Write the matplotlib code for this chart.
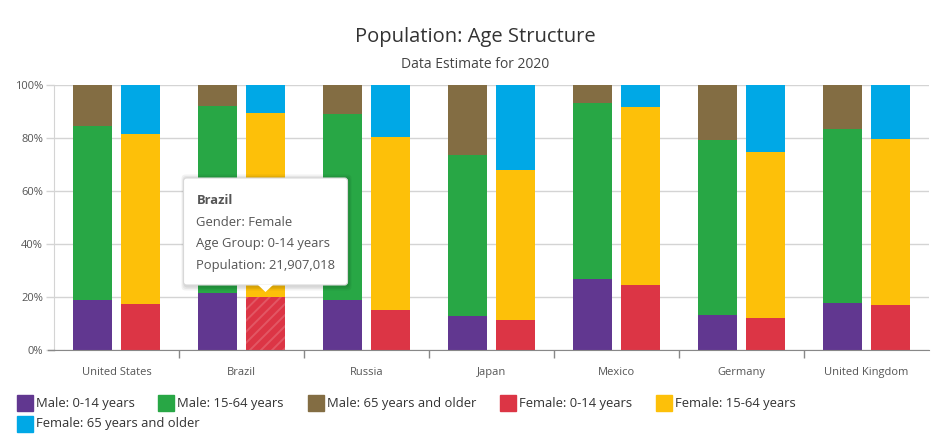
import matplotlib.pyplot as plt
import numpy as np
from matplotlib.patches import Rectangle, FancyBboxPatch, Polygon
from matplotlib.transforms import IdentityTransform

plt.rcParams['font.family'] = ['Open Sans', 'DejaVu Sans']
plt.rcParams['hatch.linewidth'] = 1.4

# --- data (share of each gender's population, %) ---
countries = ['United States', 'Brazil', 'Russia', 'Japan', 'Mexico', 'Germany', 'United Kingdom']
age_groups = ['0-14 years', '15-64 years', '65 years and older']

male_0_14 = [18.9, 21.5, 19.0, 12.8, 26.8, 13.2, 17.7]
male_15_64 = [65.7, 70.7, 70.2, 60.8, 66.4, 66.2, 65.7]
male_65 = [15.4, 7.8, 10.8, 26.4, 6.8, 20.6, 16.6]

female_0_14 = [17.4, 20.0, 15.2, 11.4, 24.5, 12.1, 17.0]
female_15_64 = [64.2, 69.4, 65.2, 56.6, 67.2, 62.7, 62.6]
female_65 = [18.4, 10.6, 19.6, 32.0, 8.3, 25.2, 20.4]

male_colors = ['#613790', '#28a745', '#836d43']
female_colors = ['#dc3545', '#fdc009', '#00a8e6']

# tooltip content (hovered point)
tip_country = 'Brazil'
tip_gender = 'Female'
tip_age = '0-14 years'
tip_population = 21907018

W, H = 950, 446
fig = plt.figure(figsize=(W / 100, H / 100), dpi=100)
ax = fig.add_axes([54 / W, (H - 350) / H, (929 - 54) / W, 265 / H])

x = np.arange(len(countries))
width = 0.312
offset = 0.192

series = [
    ('Male', -offset, [male_0_14, male_15_64, male_65], male_colors),
    ('Female', offset, [female_0_14, female_15_64, female_65], female_colors),
]

handles = []
for gender, off, stacks, colors in series:
    bottom = np.zeros(len(countries))
    for age, vals, col in zip(age_groups, stacks, colors):
        vals = np.array(vals, dtype=float)
        bars = ax.bar(x + off, vals, width, bottom=bottom, color=col, linewidth=0, zorder=2)
        handles.append((f'{gender}: {age}', col))
        if gender == tip_gender and age == tip_age:
            i = countries.index(tip_country)
            bars[i].set_hatch('///')
            bars[i].set_edgecolor('#e25764')
            bars[i].set_facecolor('#dc3545')
            tip_x, tip_y = x[i] + off, bottom[i] + vals[i]
        bottom += vals

ax.set_xlim(-0.5, len(countries) - 0.5)
ax.set_ylim(0, 100)
ax.set_yticks(np.arange(0, 101, 20))
ax.set_yticklabels([f'{v}%' for v in range(0, 101, 20)])
ax.set_xticks(x)
ax.set_xticklabels(countries)
ax.set_xticks(np.arange(0.5, len(countries) - 1, 1), minor=True)
ax.tick_params(axis='x', which='major', length=0, pad=12, labelsize=8, labelcolor='#555555')
ax.tick_params(axis='x', which='minor', length=6, color='#888888', width=1)
ax.tick_params(axis='y', length=6, color='#d4d4d4', width=1, labelsize=8, labelcolor='#555555', pad=2)
ax.grid(axis='y', color='#d4d4d4', linewidth=1, zorder=0)
for s in ['top', 'right']:
    ax.spines[s].set_visible(False)
ax.spines['bottom'].set_color('#888888')
ax.spines['left'].set_color('#d4d4d4')
ax.spines['bottom'].set_zorder(3)
# bottom axis line runs under the y tick marks too
ax.plot([-6 / 875, 0], [0, 0], color='#888888', linewidth=1, clip_on=False,
        transform=ax.transAxes, zorder=3)

fig.text(0.5, 1 - 37 / H, 'Population: Age Structure', ha='center', va='center',
         fontsize=14.5, color='#333333')
fig.text(0.5, 1 - 64 / H, 'Data Estimate for 2020', ha='center', va='center',
         fontsize=10, color='#444444')

# legend
leg_pos = [(17, 403), (158, 403), (308, 403), (500, 403), (656, 403), (17, 424)]
for (label, col), (lx, ly) in zip(handles, leg_pos):
    fig.patches.append(Rectangle((lx, H - ly - 8), 16, 16, color=col,
                                 transform=IdentityTransform(), figure=fig))
    fig.text((lx + 19) / W, 1 - ly / H, label, ha='left', va='center',
             fontsize=9.4, color='#333333')

# tooltip
fig.canvas.draw()
px, py = ax.transData.transform((tip_x, tip_y))
tip_top = py + 5
bw, bh = 164, 107
bx0, by0 = px - bw / 2, tip_top + 7
for k, a in enumerate([0.05, 0.05, 0.06]):
    d = 3 - k
    sh = FancyBboxPatch((bx0 + 1, by0 - 1 - d / 2), bw, bh + d,
                        boxstyle=f'round,pad={d},rounding_size=4',
                        facecolor='black', edgecolor='none', alpha=a,
                        transform=IdentityTransform(), figure=fig, zorder=10)
    fig.patches.append(sh)
box = FancyBboxPatch((bx0, by0), bw, bh, boxstyle='round,pad=0,rounding_size=3',
                     facecolor='white', edgecolor='#d8d8d8', linewidth=0.8,
                     transform=IdentityTransform(), figure=fig, zorder=11)
fig.patches.append(box)
arrow = Polygon([(px - 8, by0 + 0.5), (px + 8, by0 + 0.5), (px, tip_top)], closed=True,
                facecolor='white', edgecolor='none', transform=IdentityTransform(),
                figure=fig, zorder=12)
fig.patches.append(arrow)

tx = (bx0 + 13) / W
lines = [(tip_country, 'bold'),
         (f'Gender: {tip_gender}', 'normal'),
         (f'Age Group: {tip_age}', 'normal'),
         (f'Population: {tip_population:,}', 'normal')]
top_px = by0 + bh
for j, (txt, fw) in enumerate(lines):
    ty = top_px - 23 - j * 21.5
    fig.text(tx, ty / H, txt, ha='left', va='center', fontsize=9.4,
             fontweight=fw, color='#555555', zorder=13)

fig.savefig('out.png', dpi=100)
